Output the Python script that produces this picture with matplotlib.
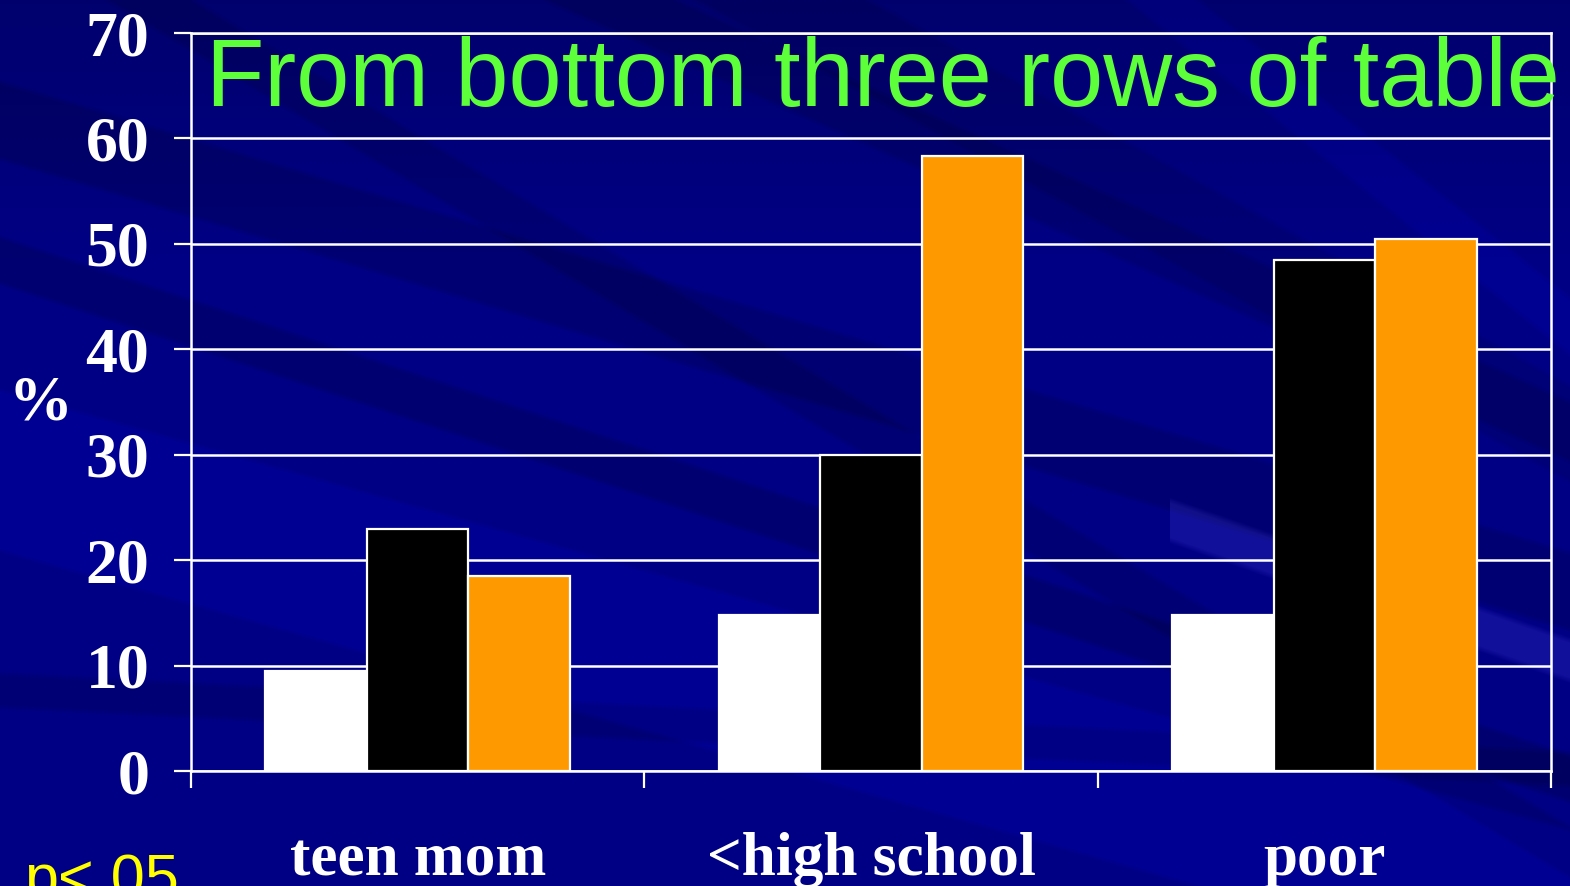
import numpy as np
import matplotlib.pyplot as plt

# percentages per group, three series
groups = ['teen mom', '<high school', 'poor']
white_vals = [9.5, 14.8, 14.8]
black_vals = [23.0, 30.0, 48.5]
orange_vals = [18.5, 58.3, 50.5]
series_colors = ['#FFFFFF', '#000000', '#FF9900']
yticks = [0, 10, 20, 30, 40, 50, 60, 70]

W, H = 1570, 886
fig = plt.figure(figsize=(W / 100, H / 100), dpi=100)

# navy slide background with a few diagonal streaks
bg = fig.add_axes([0, 0, 1, 1], zorder=-10)
yy, xx = np.mgrid[0:H, 0:W].astype(float)
blue = np.full((H, W), 0.52)
red = np.zeros((H, W))


def streak(x0, y0, slope, half, amount, soft=6.0, xmin=None):
    d = np.abs(yy - (y0 + slope * (xx - x0))) / np.sqrt(1 + slope ** 2)
    s = amount * np.clip((half - d) / soft, 0, 1)
    if xmin is not None:
        s = s * (xx >= xmin)
    return s


blue -= 0.09 * np.clip(1 - yy / 260, 0, 1)          # darker along the top
blue += streak(0, 120, 0.30, 40, -0.07)
blue += streak(0, 260, 0.33, 25, -0.08)
blue += streak(0, 470, 0.28, 80, 0.06)
blue += streak(200, 700, 0.05, 20, -0.06)
blue += streak(700, 40, 0.45, 30, -0.06)
blue += streak(1000, 120, 0.55, 45, -0.05)
blue += streak(1200, 30, 0.80, 25, 0.05)
blue += streak(1170, 520, 0.35, 22, 0.09, xmin=1170)
red += streak(1170, 520, 0.35, 22, 0.07, xmin=1170)
blue += streak(1300, 690, 0.60, 25, -0.06)
img = np.dstack([red, red * 0.9, np.clip(blue, 0, 1)])
bg.imshow(img, extent=[0, W, H, 0], aspect='auto', interpolation='bilinear')
bg.set_axis_off()

ax = fig.add_axes([191 / W, 1 - 771 / H, 1360 / W, 738 / H])
ax.patch.set_visible(False)

x = np.arange(len(groups))
bw = 0.224
for off, vals, col in zip([-bw, 0, bw], [white_vals, black_vals, orange_vals], series_colors):
    ax.bar(x + off, vals, width=bw, color=col, edgecolor='white', linewidth=1.6, zorder=3)

ax.set_xlim(-0.5, 2.5)
ax.set_ylim(0, 70)
ax.set_yticks(yticks)
ax.yaxis.grid(True, color='white', linewidth=1.8, zorder=1)
ax.set_axisbelow(True)

serif = dict(family='Liberation Serif', weight='bold', color='white')
ax.set_yticklabels([str(v) for v in yticks], fontsize=46, **serif)
ax.tick_params(axis='y', colors='white', length=12, width=1.6, pad=18)

ax.set_xticks(x)
ax.set_xticklabels(groups, fontsize=44, **serif)
ax.set_xticks([-0.5, 0.5, 1.5, 2.5], minor=True)
ax.tick_params(axis='x', which='major', length=0, pad=44)
ax.tick_params(axis='x', which='minor', colors='white', length=12, width=1.6)

for s in ax.spines.values():
    s.set_color('white')
    s.set_linewidth(1.8)

fig.text(40 / W, 1 - 405 / H, '%', ha='center', va='center', fontsize=46, **serif)

fig.text(206 / W, 1 - 106 / H, 'From bottom three rows of table',
         family='Liberation Sans', fontsize=68.8, color='#5CFF3A', va='baseline', ha='left')

fig.text(24 / W, 1 - 897 / H, 'p<.05', family='Liberation Sans', fontsize=44,
         color='#FFFF00', va='baseline', ha='left')

fig.savefig('out.png', dpi=100)
